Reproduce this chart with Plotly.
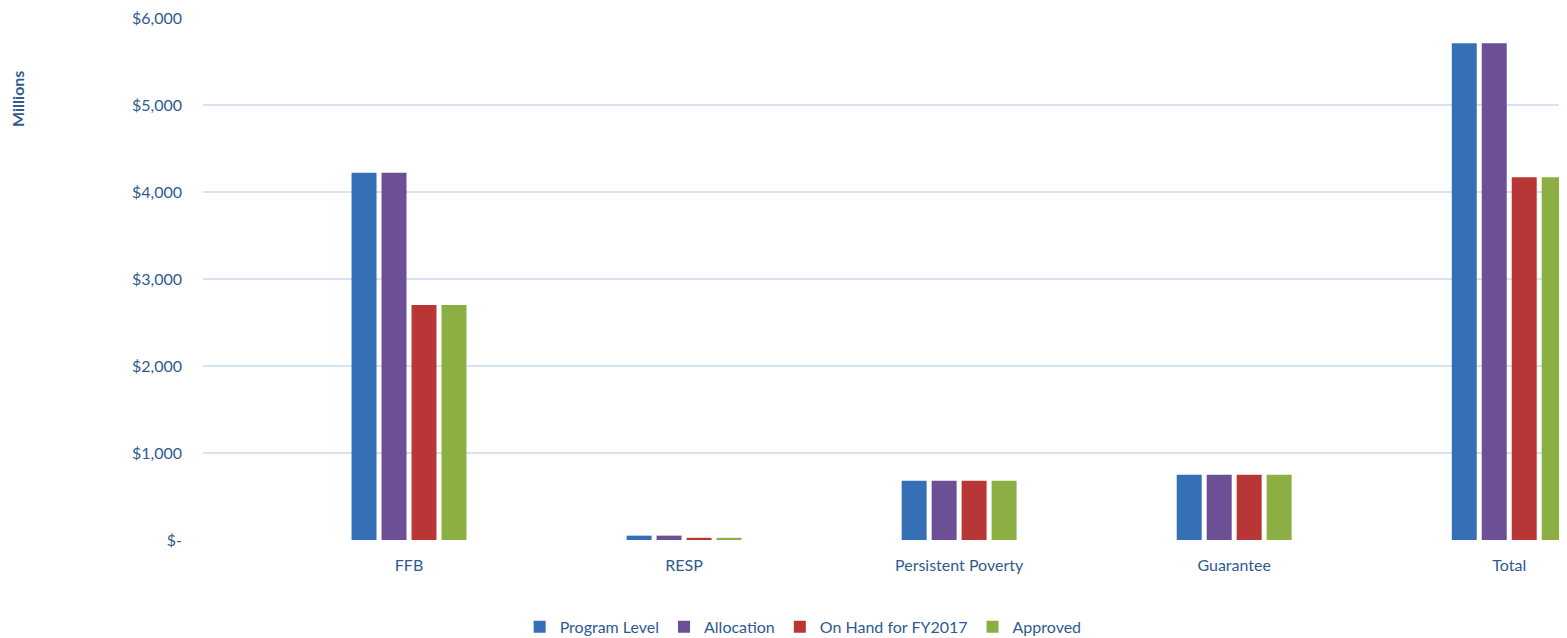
import plotly.graph_objects as go

categories = ["FFB", "RESP", "Persistent Poverty", "Guarantee", "Total"]
program_level = [4220, 50, 680, 750, 5710]
allocation = [4220, 50, 680, 750, 5710]
on_hand_fy2017 = [2700, 25, 680, 750, 4170]
approved = [2700, 25, 680, 750, 4170]
series_names = ["Program Level", "Allocation", "On Hand for FY2017", "Approved"]
y_ticks = [0, 1000, 2000, 3000, 4000, 5000, 6000]
y_tick_labels = ["$-", "$1,000", "$2,000", "$3,000", "$4,000", "$5,000", "$6,000"]

colors = ["#3570B7", "#6C4F95", "#B83736", "#8CAF43"]
series = [program_level, allocation, on_hand_fy2017, approved]
text_color = "#2F5B8F"
font_family = "Lato, Calibri, Arial, sans-serif"

fig = go.Figure()
for name, vals, col in zip(series_names, series, colors):
    fig.add_trace(go.Bar(
        x=categories, y=vals, name=name,
        marker=dict(color=col, line=dict(width=0)),
    ))

fig.update_layout(
    width=1559, height=630,
    margin=dict(l=195, r=0, t=10, b=98, autoexpand=False),
    paper_bgcolor="white", plot_bgcolor="white",
    barmode="group", bargap=0.564, bargroupgap=0.167,
    font=dict(family=font_family, size=16, color=text_color),
    showlegend=True,
    legend=dict(orientation="h", x=0.44, xanchor="center", y=-0.134, yanchor="top",
                font=dict(size=16, color=text_color), itemwidth=30,
                traceorder="normal"),
    xaxis=dict(
        type="category", range=[-0.749, 4.21],
        showgrid=False, zeroline=False, showline=False,
        ticks="", tickfont=dict(size=16, color=text_color),
        ticklabelstandoff=14,
    ),
    yaxis=dict(
        range=[0, 6000], tickvals=y_ticks, ticktext=y_tick_labels,
        showgrid=True, gridcolor="#D6E3F3", gridwidth=1.5,
        zeroline=False, showline=False, ticks="",
        tickfont=dict(size=16, color=text_color),
        ticklabelstandoff=20, ticklabeloverflow="allow",
    ),
    annotations=[dict(
        text="<b>Millions</b>", textangle=-90, xref="paper", yref="paper",
        x=-0.1356, y=0.845, xanchor="center", yanchor="middle", showarrow=False,
        font=dict(size=16, color=text_color, family=font_family),
    )],
)

fig.write_html("out.html")
